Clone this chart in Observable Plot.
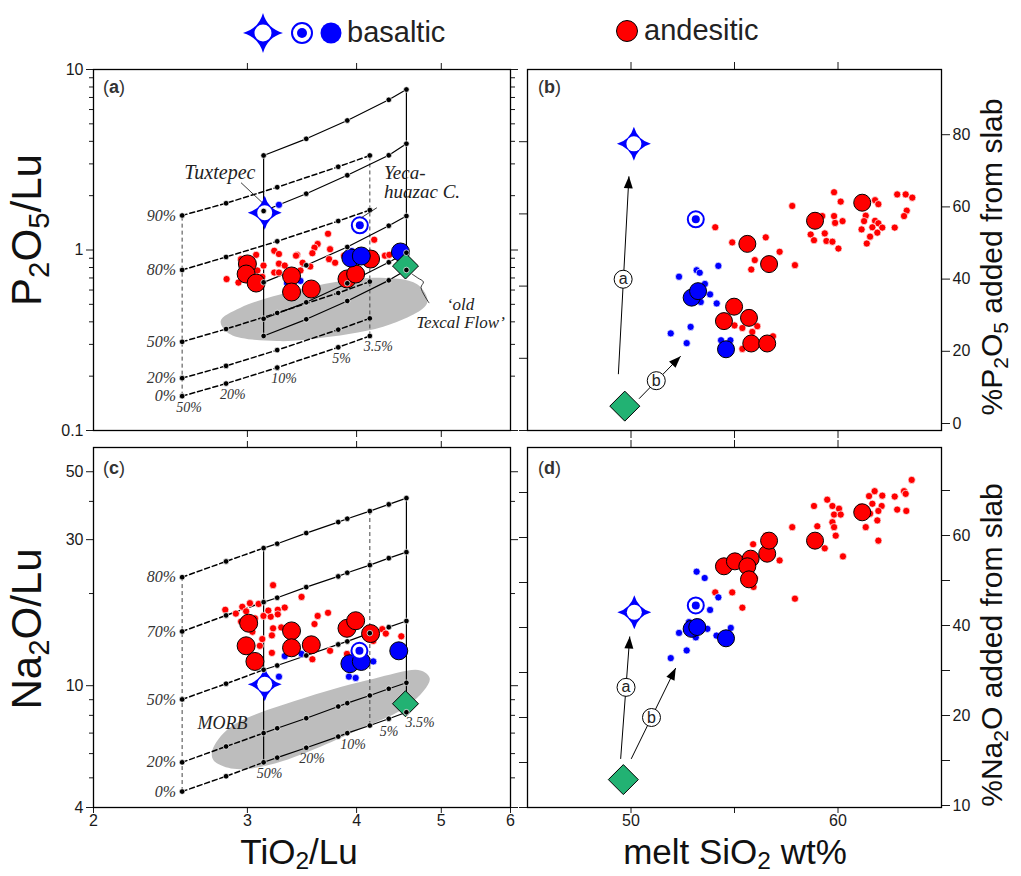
<!DOCTYPE html>
<html><head><meta charset="utf-8">
<script src="https://cdn.jsdelivr.net/npm/d3@7"></script>
<script src="https://cdn.jsdelivr.net/npm/@observablehq/plot@0.6"></script>
<style>
body{margin:0;background:#fff;}
#wrap{position:relative;width:1021px;height:876px;background:#fff;overflow:hidden;}
.panel{position:absolute;}
.panel svg{overflow:visible;}
</style></head><body><div id="wrap"></div>
<script>
// ---------------- data ----------------
// model grid (panels a, c): TiO2/Lu at melting degrees
const meltLabels = ["50%","20%","10%","5%","3.5%"];
const tiDashed = [2.526, 2.836, 3.245, 3.811, 4.142];
const tiSolid  = [3.131, 3.503, 3.903, 4.354, 4.561];
const slabLabelsA = ["0%","20%","50%","80%","90%"];
const pDashed = [
  [0.155,0.182,0.223,0.289,0.334],
  [0.195,0.228,0.279,0.362,0.418],
  [0.310,0.365,0.448,0.578,0.668],
  [0.775,0.915,1.117,1.447,1.665],
  [1.553,1.816,2.228,2.891,3.339]];
const pSolid = [
  [0.334,0.413,0.522,0.679,0.775],
  [0.416,0.513,0.654,0.855,0.966],
  [0.662,0.823,1.039,1.363,1.543],
  [1.645,2.051,2.594,3.347,3.881],
  [3.339,4.130,5.219,6.792,7.746]];
const tiAll = [2.526,2.836,3.131,3.245,3.503,3.811,3.903,4.142,4.354,4.561];
const slabLabelsC = ["0%","20%","50%","70%","80%"];
const naGrid = [
  [4.51,5.06,5.62,5.82,6.27,6.82,7.00,7.41,7.80,8.19],
  [5.62,6.33,7.00,7.26,7.83,8.55,8.77,9.29,9.77,10.22],
  [9.02,10.15,11.27,11.64,12.55,13.64,13.95,14.85,15.53,16.27],
  [15.04,16.97,18.75,19.38,20.99,22.75,23.39,24.76,26.10,27.31],
  [22.62,25.47,28.15,29.10,31.52,34.23,35.12,37.19,39.11,41.0]];
// grey fields (outline points)
const blobA = [[2.796,0.404],[2.946,0.479],[3.512,0.618],[4.186,0.702],[4.692,0.646],[4.818,0.511],[4.374,0.388],[3.669,0.327],[3.245,0.313],[2.868,0.341]];
const blobC = [[2.735,6.14],[2.868,7.32],[3.512,9.18],[4.186,10.54],[4.732,11.22],[4.851,10.54],[4.610,8.73],[4.005,7.14],[3.216,5.56],[2.893,5.35],[2.745,5.70]];

// panel (a): TiO2/Lu vs P2O5/Lu
const smallRedA = [[3.71,1.23],[4.19,1.14],[3.61,1.08],[3.58,1.03],[3.22,0.99],[3.26,0.95],[3.07,0.94],[3.42,0.94],[3.56,0.96],[3.73,1.01],[3.87,0.93],[4.31,0.93],[4.36,0.94],[2.84,0.69],[2.93,0.66],[3.13,0.82],[3.26,0.84],[3.31,0.82],[3.22,0.75],[3.26,0.75],[3.41,0.93],[3.47,0.85],[3.72,0.89],[3.08,0.77],[3.12,0.71],[2.95,0.89],[3.45,0.77],[3.54,0.81],[3.78,0.85],[4.19,0.95]];
const smallBlueA = [[3.26,1.78],[3.33,0.656],[3.45,0.674],[3.95,0.987],[3.91,0.94]];
const bigRedA = [[3.00,0.837],[2.99,0.736],[3.07,0.656],[3.37,0.718],[3.37,0.585],[3.55,0.608],[3.90,0.691],[3.99,0.736],[4.15,0.891]];
const bigBlueA = [[3.94,0.903],[4.05,0.926],[4.49,0.975]];
const tuxA = [3.14,1.609], yecaA = [4.034,1.370], texcalA = [4.55,0.815];

// panel (b): melt SiO2 vs % P2O5 added from slab
const smallRedB = [[54.07,56.3],[54.89,52.1],[56.51,53.5],[57.18,49.5],[55.98,47.2],[55.81,44.6],[57.92,45.8],[55.0,29.1],[55.38,28.4],[56.10,28.9],[55.86,27.3],[55.38,22.6],[56.86,26.1],[57.79,62.2],[59.81,66.0],[60.13,63.4],[59.24,59.4],[59.81,59.4],[60.22,58.0],[59.86,57.5],[58.68,54.3],[58.84,52.7],[59.36,54.6],[59.44,52.5],[59.73,52.3],[60.02,50.4],[61.79,63.8],[61.95,62.7],[61.34,59.5],[61.26,58.0],[61.79,58.1],[61.95,57.4],[61.66,56.3],[62.14,56.2],[61.14,55.7],[61.90,54.8],[61.55,53.7],[61.39,51.8],[62.74,56.2],[62.86,65.4],[63.27,65.4],[63.59,64.5],[63.32,60.9],[63.19,59.4]];
const smallBlueB = [[52.32,42.6],[53.17,44.4],[53.32,43.7],[54.22,45.6],[53.57,40.6],[53.82,37.7],[53.37,35.6],[54.14,35.2],[52.88,28.7],[51.92,26.9],[52.69,24.2],[54.35,25.0],[54.80,25.0]];
const bigRedB = [[55.62,51.7],[56.67,46.1],[58.89,58.1],[61.17,63.1],[54.98,34.3],[54.49,30.3],[55.70,31.2],[55.81,24.1],[56.58,24.1]];
const bigBlueB = [[52.93,36.8],[53.24,38.6],[54.59,22.5]];
const tuxB = [50.14,79.4], yecaB = [53.13,58.5], texcalB = [49.70,6.75];
const arrowsB = [{x1:49.39,y1:15.6,x2:49.90,y2:70.4,t:"a",lx:49.62,ly:41.9},{x1:50.39,y1:8.8,x2:52.40,y2:20.6,t:"b",lx:51.22,ly:13.8}];

// panel (c): TiO2/Lu vs Na2O/Lu
const smallRedC = [[3.21,21.3],[3.46,19.5],[2.83,17.7],[2.91,17.2],[2.96,18.1],[3.02,18.6],[2.99,17.5],[3.06,16.6],[3.09,18.5],[3.13,16.9],[3.19,16.8],[3.25,17.7],[3.25,17.1],[3.31,18.0],[3.17,17.6],[3.61,16.9],[3.58,15.9],[3.71,17.3],[3.21,15.4],[3.28,15.5],[4.28,15.3],[4.32,14.8],[4.50,14.5],[3.20,14.6],[3.20,12.8],[3.10,13.5],[3.56,12.2],[3.73,13.0],[3.38,14.0],[4.18,14.0],[3.90,12.7],[3.04,15.0],[3.12,14.2],[2.95,16.2]];
const smallBlueC = [[3.26,10.7],[3.31,12.5],[3.46,12.7],[3.92,10.7],[3.99,10.6],[3.88,11.9],[4.18,12.0]];
const bigRedC = [[3.01,16.0],[2.99,13.5],[3.06,12.0],[3.37,15.1],[3.37,13.3],[3.55,13.6],[3.90,15.4],[3.99,16.3],[4.15,14.8]];
const bigBlueC = [[3.93,11.8],[4.05,12.0],[4.47,13.0]];
const tuxC = [3.14,10.1], yecaC = [4.03,13.0], texcalC = [4.55,8.73];

// panel (d): melt SiO2 vs % Na2O added from slab
const smallRedD = [[54.07,47.8],[54.89,47.8],[55.38,44.4],[55.98,51.0],[55.92,49.0],[57.18,54.9],[56.51,60.4],[57.92,46.4],[57.79,62.3],[59.0,62.5],[59.36,57.6],[60.24,55.8],[59.48,68.4],[58.84,67.0],[59.73,67.0],[60.05,66.4],[59.81,65.1],[60.13,65.1],[59.73,63.4],[59.81,62.3],[59.89,60.4],[61.5,69.2],[61.77,70.3],[62.14,69.3],[61.66,67.5],[62.11,67.0],[61.95,65.9],[61.55,65.3],[61.9,63.8],[61.34,62.3],[61.95,59.3],[62.74,69.1],[62.86,66.2],[63.19,70.3],[63.27,69.7],[63.3,65.9],[63.56,72.8],[61.1,66.8],[55.9,58.5],[56.4,57.0]];
const smallBlueD = [[53.17,52.4],[53.56,51.0],[54.22,46.7],[53.82,43.9],[52.32,38.8],[53.69,39.7],[53.13,37.8],[54.13,38.2],[54.82,39.9],[52.69,34.9],[51.92,33.2],[52.8,41.2]];
const bigRedD = [[54.49,53.6],[55.02,54.7],[55.78,55.3],[55.62,53.6],[55.7,50.7],[56.58,56.4],[56.67,59.3],[58.89,59.3],[61.17,65.6]];
const bigBlueD = [[52.93,39.7],[53.2,40.1],[54.59,37.6]];
const tuxD = [50.16,43.4], yecaD = [53.13,44.9], texcalD = [49.63,13.1];
const arrowsD = [{x1:49.50,y1:15.4,x2:49.94,y2:38.0,t:"a",lx:49.76,ly:26.7},{x1:50.01,y1:15.4,x2:52.16,y2:31.0,t:"b",lx:50.99,ly:20.0}];

// annotations
const notesMidA = [{x:2.79,y:2.67,t:"Tuxtepec"}];
const notesTexcal = [{x:5.26,y:0.4958,t:"\u2018old"},{x:5.26,y:0.394,t:"Texcal Flow\u2019"}];
const notesStartA = [{x:4.30,y:2.672,t:"Yeca-"},{x:4.30,y:2.096,t:"huazac C."}];
const leadersA = [{x1:2.95,y1:2.36,x2:3.12,y2:1.83},{x1:4.22,y1:1.715,x2:4.05,y2:1.51}];
const texcalLeader = [[4.84,0.51],[4.74,0.62],[4.77,0.665],[4.70,0.70],[4.63,0.735]];
const notesC = [{x:2.81,y:7.55,t:"MORB"}];

// axis ticks
const logMajorA = [0.1,1,10], logMinorA = [0.2,0.3,0.4,0.5,0.6,0.7,0.8,0.9,2,3,4,5,6,7,8,9];
const logMajorC = [4,10,30,50], logMinorC = [5,6,7,8,9,20,40];
const tiTicks = [2,3,4,5,6], tiTicksInner = [3,4,5];
const siTicks = [50,55,60], siLabels = [50,60];
const pctPTicks = [0,20,40,60,80];
const pctNaTicks = [10,15,20,30,40,50,60,70], pctNaLabels = [10,20,40,60];

// ---------------- helpers ----------------
const X = d => d[0], Y = d => d[1];
const BLUE = "#0000ff", RED = "#ff0000", GREEN = "#22b273", BLOB = "#bdbdbd";
const serif = "'Liberation Serif','Times New Roman',serif";
const none = () => "";
const starSym = R => ({draw(ctx){const c=0.22*R;ctx.moveTo(0,-R);ctx.quadraticCurveTo(c,-c,R,0);ctx.quadraticCurveTo(c,c,0,R);ctx.quadraticCurveTo(-c,c,-R,0);ctx.quadraticCurveTo(-c,-c,0,-R);ctx.closePath();}});
const diamondSym = h => ({draw(ctx){ctx.moveTo(0,-h);ctx.lineTo(h,0);ctx.lineTo(0,h);ctx.lineTo(-h,0);ctx.closePath();}});
const headSym = {draw(ctx){ctx.moveTo(0,0);ctx.lineTo(4.5,12);ctx.lineTo(-4.5,12);ctx.closePath();}};

function curves(xs, rows, from, to, key) {
  const out = [];
  rows.forEach((row, k) => { for (let i = from; i <= to; i++) out.push({x: xs[i], y: row[i], k: key + k}); });
  return out;
}
const verticals = (xs, rows, idx) => idx.map(i => ({x: xs[i], y1: rows[0][i], y2: rows[rows.length - 1][i]}));
const gridDots = (xs, rows) => rows.flatMap(row => row.map((y, i) => ({x: xs[i], y})));

function points(sr, sb, br, bb, R) {
  return [
    Plot.dot(sr, {x: X, y: Y, r: 3.6, fill: RED, stroke: "white", strokeWidth: 0.7}),
    Plot.dot(sb, {x: X, y: Y, r: 3.6, fill: BLUE, stroke: "white", strokeWidth: 0.7}),
    Plot.dot(br, {x: X, y: Y, r: R, fill: RED, stroke: "black", strokeWidth: 1}),
    Plot.dot(bb, {x: X, y: Y, r: R, fill: BLUE, stroke: "black", strokeWidth: 1})
  ];
}
function specials(tux, yeca, dia, h) {
  return [
    Plot.dot([tux], {x: X, y: Y, symbol: starSym(17), r: 5, fill: BLUE, stroke: "none"}),
    Plot.dot([tux], {x: X, y: Y, r: 7.5, fill: "white", stroke: "none"}),
    Plot.dot([yeca], {x: X, y: Y, r: 8, fill: "white", stroke: BLUE, strokeWidth: 2}),
    Plot.dot([yeca], {x: X, y: Y, r: 4, fill: BLUE}),
    Plot.dot([dia], {x: X, y: Y, symbol: diamondSym(h), r: 5, fill: GREEN, stroke: "black", strokeWidth: 1})
  ];
}
function arrowMarks(arrows, sx, sy) {
  const heads = arrows.map(a => ({x: a.x2, y: a.y2,
    rot: Math.atan2(sx(a.x2) - sx(a.x1), -(sy(a.y2) - sy(a.y1))) * 180 / Math.PI}));
  return [
    Plot.link(arrows, {x1: "x1", y1: "y1", x2: "x2", y2: "y2", stroke: "black", strokeWidth: 1}),
    Plot.dot(heads, {x: "x", y: "y", rotate: "rot", symbol: headSym, r: 5, fill: "black", stroke: "none"}),
    Plot.dot(arrows, {x: "lx", y: "ly", r: 9, fill: "white", stroke: "black", strokeWidth: 1}),
    Plot.text(arrows, {x: "lx", y: "ly", text: "t", fontSize: 16, fill: "#222"})
  ];
}
const styleBase = {background: "transparent", overflow: "visible", fontFamily: "'Liberation Sans',Arial,sans-serif", fontSize: "16px", color: "#1a1a1a"};
const pctText = {fontFamily: serif, fontStyle: "italic", fontSize: 16, fill: "#333"};
const botText = {fontFamily: serif, fontStyle: "italic", fontSize: 14, fill: "#333", textAnchor: "start", dy: 11};

// ---------------- panel (a) ----------------
const botA = meltLabels.map((t, i) => ({x: tiDashed[i], y: pDashed[0][i], t}));
const pa = Plot.plot({
  width: 518, height: 438, marginLeft: 93, marginRight: 8, marginTop: 69, marginBottom: 8,
  x: {type: "log", domain: [2, 6]}, y: {type: "log", domain: [0.1, 10]}, style: styleBase,
  marks: [
    Plot.line(blobA, {x: X, y: Y, curve: "catmull-rom-closed", fill: BLOB, stroke: "none"}),
    Plot.ruleX(verticals(tiDashed, pDashed, [0, 4]), {x: "x", y1: "y1", y2: "y2", stroke: "#444", strokeDasharray: "4,3"}),
    Plot.ruleX(verticals(tiSolid, pSolid, [0, 4]), {x: "x", y1: "y1", y2: "y2", stroke: "black", strokeWidth: 1.2}),
    Plot.line(curves(tiDashed, pDashed, 0, 4, "d"), {x: "x", y: "y", z: "k", stroke: "black", strokeDasharray: "5,3"}),
    Plot.line(curves(tiSolid, pSolid, 0, 4, "s"), {x: "x", y: "y", z: "k", stroke: "black", strokeWidth: 1.2}),
    points(smallRedA, smallBlueA, bigRedA, bigBlueA, 9),
    specials(tuxA, yecaA, texcalA, 13),
    Plot.dot(gridDots(tiDashed, pDashed).concat(gridDots(tiSolid, pSolid)), {x: "x", y: "y", r: 2.8, fill: "black", stroke: "white", strokeWidth: 0.7}),
    Plot.text(slabLabelsA.map((t, k) => ({x: tiDashed[0], y: pDashed[k][0], t})), {x: "x", y: "y", text: "t", textAnchor: "end", dx: -6, ...pctText}),
    Plot.text(botA, {x: "x", y: "y", text: "t", dx: -6, ...botText}),
    Plot.link(leadersA, {x1: "x1", y1: "y1", x2: "x2", y2: "y2", stroke: "#222", strokeWidth: 0.9}),
    Plot.line(texcalLeader, {x: X, y: Y, curve: "catmull-rom", stroke: "#222", strokeWidth: 0.9}),
    Plot.text(notesMidA, {x: "x", y: "y", text: "t", fontFamily: serif, fontStyle: "italic", fontSize: 20, fill: "#222"}),
    Plot.text(notesStartA, {x: "x", y: "y", text: "t", textAnchor: "start", fontFamily: serif, fontStyle: "italic", fontSize: 19, fill: "#222"}),
    Plot.text(notesTexcal, {x: "x", y: "y", text: "t", fontFamily: serif, fontStyle: "italic", fontSize: 17, fill: "#222"}),
    Plot.axisY(logMinorA, {anchor: "left", tickSize: 4, tickFormat: none, label: null}),
    Plot.axisY(logMajorA, {anchor: "left", tickSize: 7, tickFormat: d => String(d), label: null}),
    Plot.axisY(logMinorA, {anchor: "right", tickSize: 4, tickFormat: none, label: null}),
    Plot.axisY(logMajorA, {anchor: "right", tickSize: 7, tickFormat: none, label: null}),
    Plot.axisX(tiTicksInner, {anchor: "top", tickSize: 7, tickFormat: none, label: null}),
    Plot.axisX(tiTicksInner, {anchor: "bottom", tickSize: 7, tickFormat: none, label: null}),
    Plot.frame({stroke: "black", strokeWidth: 1.3})
  ]
});

// ---------------- panel (b) ----------------
const sxB = d3.scaleLinear([45, 65], [527, 941]);
const syB = d3.scaleLinear([0, 100], [430, 69]);
const pb = Plot.plot({
  width: 503, height: 438, marginLeft: 9, marginRight: 80, marginTop: 69, marginBottom: 8,
  x: {domain: [45, 65]}, y: {domain: [0, 100]}, style: styleBase,
  marks: [
    arrowMarks(arrowsB, sxB, syB),
    points(smallRedB, smallBlueB, bigRedB, bigBlueB, 8.5),
    specials(tuxB, yecaB, texcalB, 15),
    Plot.axisY(pctPTicks, {anchor: "right", tickSize: 8, label: null, dy: -7}),
    Plot.axisY(pctPTicks, {anchor: "left", tickSize: 8, tickFormat: none, label: null}),
    Plot.axisX(siTicks, {anchor: "top", tickSize: 8, tickFormat: none, label: null}),
    Plot.axisX(siTicks, {anchor: "bottom", tickSize: 8, tickFormat: none, label: null}),
    Plot.frame({stroke: "black", strokeWidth: 1.3})
  ]
});

// ---------------- panel (c) ----------------
const botC = meltLabels.map((t, i) => ({x: tiSolid[i], y: naGrid[0][tiAll.indexOf(tiSolid[i])], t}));
const pc = Plot.plot({
  width: 518, height: 438, marginLeft: 93, marginRight: 8, marginTop: 9, marginBottom: 69,
  x: {type: "log", domain: [2, 6]}, y: {type: "log", domain: [4, 60]}, style: styleBase,
  marks: [
    Plot.line(blobC, {x: X, y: Y, curve: "catmull-rom-closed", fill: BLOB, stroke: "none"}),
    Plot.ruleX(verticals(tiAll, naGrid, [0, 7]), {x: "x", y1: "y1", y2: "y2", stroke: "#444", strokeDasharray: "4,3"}),
    Plot.ruleX(verticals(tiAll, naGrid, [2, 9]), {x: "x", y1: "y1", y2: "y2", stroke: "black", strokeWidth: 1.2}),
    Plot.line(curves(tiAll, naGrid, 0, 2, "d"), {x: "x", y: "y", z: "k", stroke: "black", strokeDasharray: "5,3"}),
    Plot.line(curves(tiAll, naGrid, 2, 9, "s"), {x: "x", y: "y", z: "k", stroke: "black", strokeWidth: 1.2}),
    points(smallRedC, smallBlueC, bigRedC, bigBlueC, 9),
    specials(tuxC, yecaC, texcalC, 13),
    Plot.dot(gridDots(tiAll, naGrid), {x: "x", y: "y", r: 2.8, fill: "black", stroke: "white", strokeWidth: 0.7}),
    Plot.text(slabLabelsC.map((t, k) => ({x: tiAll[0], y: naGrid[k][0], t})), {x: "x", y: "y", text: "t", textAnchor: "end", dx: -6, ...pctText}),
    Plot.text(botC.slice(0, 3), {x: "x", y: "y", text: "t", dx: -7, ...botText}),
    Plot.text(botC.slice(3, 4), {x: "x", y: "y", text: "t", dx: -9, ...botText, dy: 13}),
    Plot.text(botC.slice(4), {x: "x", y: "y", text: "t", dx: -1, ...botText, dy: 10}),
    Plot.text(notesC, {x: "x", y: "y", text: "t", fontFamily: serif, fontStyle: "italic", fontSize: 18, fill: "#222"}),
    Plot.axisY(logMinorC, {anchor: "left", tickSize: 4, tickFormat: none, label: null}),
    Plot.axisY(logMajorC, {anchor: "left", tickSize: 7, tickFormat: d => String(d), label: null}),
    Plot.axisY(logMinorC, {anchor: "right", tickSize: 4, tickFormat: none, label: null}),
    Plot.axisY(logMajorC, {anchor: "right", tickSize: 7, tickFormat: none, label: null}),
    Plot.axisX(tiTicksInner, {anchor: "top", tickSize: 7, tickFormat: none, label: null}),
    Plot.axisX(tiTicks, {anchor: "bottom", tickSize: 6, tickPadding: 1, tickFormat: d => String(d), label: null, fontSize: 16}),
    Plot.frame({stroke: "black", strokeWidth: 1.3})
  ]
});

// ---------------- panel (d) ----------------
const sxD = d3.scaleLinear([45, 65], [527, 941]);
const syD = d3.scaleLinear([10, 20, 80], [807, 717, 447]);
const pd = Plot.plot({
  width: 503, height: 438, marginLeft: 9, marginRight: 80, marginTop: 9, marginBottom: 69,
  x: {domain: [45, 65]}, y: {type: "linear", domain: [10, 20, 80], range: [369, 279, 9]}, style: styleBase,
  marks: [
    arrowMarks(arrowsD, sxD, syD),
    points(smallRedD, smallBlueD, bigRedD, bigBlueD, 8.5),
    specials(tuxD, yecaD, texcalD, 15),
    Plot.axisY(pctNaTicks, {anchor: "right", tickSize: 8, label: null, dy: -2, tickFormat: d => pctNaLabels.includes(d) ? String(d) : ""}),
    Plot.axisY(pctNaTicks, {anchor: "left", tickSize: 8, tickFormat: none, label: null}),
    Plot.axisX(siTicks, {anchor: "top", tickSize: 8, tickFormat: none, label: null}),
    Plot.axisX(siTicks, {anchor: "bottom", tickSize: 6, tickPadding: 1, label: null, fontSize: 16, tickFormat: d => siLabels.includes(d) ? String(d) : ""}),
    Plot.frame({stroke: "black", strokeWidth: 1.3})
  ]
});

// ---------------- layout ----------------
const wrap = document.getElementById("wrap");
[[pa, 0, 0], [pb, 518, 0], [pc, 0, 438], [pd, 518, 438]].forEach(([svg, l, t]) => {
  const div = document.createElement("div");
  div.className = "panel"; div.style.left = l + "px"; div.style.top = t + "px";
  div.appendChild(svg); wrap.appendChild(div);
});

// titles, panel letters and legend (real text)
const ov = d3.select(wrap).append("svg").attr("width", 1021).attr("height", 876)
  .style("position", "absolute").style("left", 0).style("top", 0).style("pointer-events", "none")
  .attr("font-family", "'Liberation Sans',Arial,sans-serif").attr("fill", "#111");
function rich(parts, attrs, shift) {
  const t = ov.append("text");
  Object.entries(attrs).forEach(([k, v]) => t.attr(k, v));
  parts.forEach(p => {
    const s = t.append("tspan").text(p[0]);
    if (p[1]) s.attr("font-size", "70%").attr("baseline-shift", -shift);
  });
  return t;
}
rich([["P"],["2",1],["O"],["5",1],["/Lu"]], {transform: "translate(41,230) rotate(-90)", "text-anchor": "middle", "font-size": 42}, 8);
rich([["Na"],["2",1],["O/Lu"]], {transform: "translate(41,629) rotate(-90)", "text-anchor": "middle", "font-size": 42}, 8);
rich([["TiO"],["2",1],["/Lu"]], {x: 299, y: 864, "text-anchor": "middle", "font-size": 35}, 5);
rich([["melt SiO"],["2",1],[" wt%"]], {x: 735, y: 864, "text-anchor": "middle", "font-size": 35}, 5);
rich([["%P"],["2",1],["O"],["5",1],[" added from slab"]], {transform: "translate(1002,257) rotate(-90)", "text-anchor": "middle", "font-size": 30}, 6);
rich([["%Na"],["2",1],["O added from slab"]], {transform: "translate(1002,645) rotate(-90)", "text-anchor": "middle", "font-size": 30}, 6);
[["a", 103, 93], ["b", 538, 93], ["c", 103, 474], ["d", 538, 474]].forEach(([l, x, y]) => {
  const t = ov.append("text").attr("x", x).attr("y", y).attr("font-size", 18).attr("fill", "#333");
  t.append("tspan").text("(");
  t.append("tspan").attr("font-weight", "bold").text(l);
  t.append("tspan").text(")");
});
// legend
const starPath = d3.path(); starSym(20).draw(starPath);
ov.append("path").attr("d", starPath.toString()).attr("transform", "translate(263,33)").attr("fill", BLUE);
ov.append("circle").attr("cx", 263).attr("cy", 33).attr("r", 8.5).attr("fill", "white");
ov.append("circle").attr("cx", 302).attr("cy", 33).attr("r", 10).attr("fill", "white").attr("stroke", BLUE).attr("stroke-width", 2);
ov.append("circle").attr("cx", 302).attr("cy", 33).attr("r", 5).attr("fill", BLUE);
ov.append("circle").attr("cx", 331).attr("cy", 33).attr("r", 10.5).attr("fill", BLUE);
ov.append("text").attr("x", 347).attr("y", 42).attr("font-size", 29).attr("fill", "#222").text("basaltic");
ov.append("circle").attr("cx", 627).attr("cy", 31).attr("r", 10.5).attr("fill", RED).attr("stroke", "black");
ov.append("text").attr("x", 644).attr("y", 40).attr("font-size", 29).attr("fill", "#222").text("andesitic");
</script></body></html>
